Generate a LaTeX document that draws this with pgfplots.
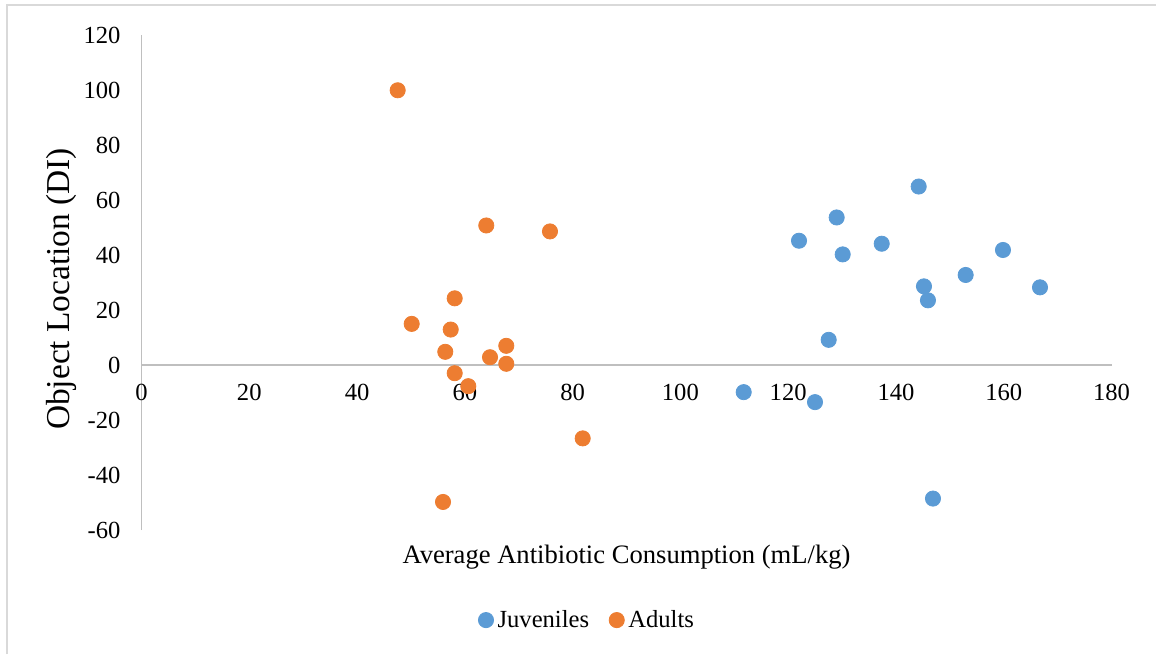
\documentclass[border=0pt]{standalone}
\usepackage{pgfplots}
\pgfplotsset{compat=1.18}
\usepackage{fontspec}
\setmainfont{Liberation Serif}
\definecolor{juv}{HTML}{5B9BD5}
\definecolor{adu}{HTML}{ED7D31}
\begin{document}
\begin{tikzpicture}
\useasboundingbox (-70.75pt,-62pt) rectangle (507.25pt,265pt);
\draw[line width=1pt, color=black!15] (-67.25pt,-62pt) -- (-67.25pt,262.5pt) -- (507.25pt,262.5pt);
\begin{axis}[at={(0,0)}, anchor=south west, scale only axis,
 width=485pt, height=247.5pt,
 xmin=0, xmax=180, ymin=-60, ymax=120,
 axis x line*=bottom, axis y line*=left,
 x axis line style={draw=none},
 y axis line style={-, draw=black!25, line width=0.8pt},
 xtick={0,20,...,180}, ytick={-60,-40,...,120},
 major tick length=0pt,
 tick label style={font=\fontsize{12.3}{14}\selectfont},
 /pgf/number format/assume math mode=true,
 xticklabel style={anchor=north, yshift=76.5pt},
 yticklabel style={anchor=east, xshift=-7pt},
 xlabel={Average Antibiotic Consumption (mL/kg)},
 xlabel style={at={(axis description cs:0.5,0)}, anchor=north, yshift=-4pt, font=\fontsize{13.3}{15}\selectfont},
 ylabel={Object Location (DI)},
 ylabel style={at={(axis description cs:-0.082,0.487)}, anchor=center, font=\fontsize{16.7}{19}\selectfont},
 legend style={at={(axis description cs:0.4605,-0.182)}, anchor=center, draw=none, fill=none,
   legend columns=2, font=\fontsize{12.3}{14}\selectfont,
   /tikz/every even column/.append style={column sep=8pt}},
 legend cell align=left,
 clip=false,
]
\draw[black!25, line width=0.8pt] (axis cs:0,0) -- (axis cs:180,0);
\addplot[only marks, mark=*, mark size=3.8pt, mark options={draw=juv, fill=juv}] coordinates {
(144.22,64.90) (129.00,53.65) (122.01,45.19) (130.12,40.22) (137.36,44.10)
(159.86,41.82) (152.94,32.74) (145.20,28.60) (166.73,28.24) (145.94,23.52)
(127.52,9.15) (111.75,-9.87) (124.98,-13.50) (146.87,-48.57)
};
\addlegendentry{Juveniles}
\addplot[only marks, mark=*, mark size=3.8pt, mark options={draw=adu, fill=adu}] coordinates {
(47.54,99.9) (50.14,14.95) (58.12,24.25) (57.38,12.89) (56.37,4.79)
(64.67,2.83) (67.69,6.97) (67.69,0.44) (58.12,-2.98) (60.64,-7.70)
(81.87,-26.68) (55.95,-49.80) (63.98,50.74) (75.80,48.57)
};
\addlegendentry{Adults}
\end{axis}
\end{tikzpicture}
\end{document}
